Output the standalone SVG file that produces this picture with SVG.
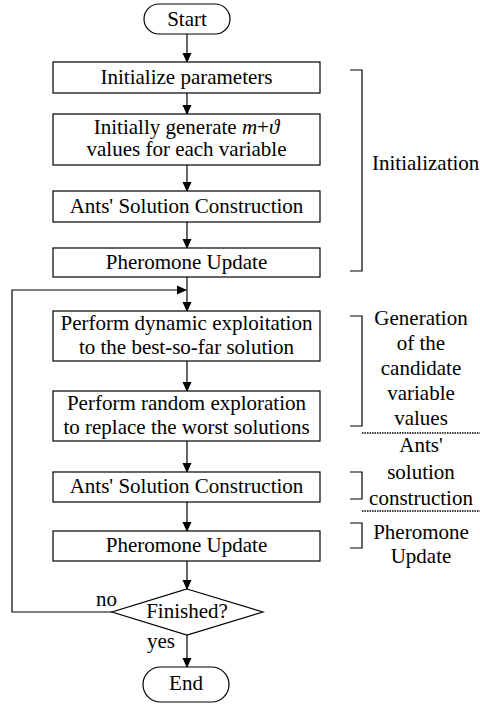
<svg xmlns="http://www.w3.org/2000/svg" width="480" height="704" viewBox="0 0 480 704">
<style>
text{font-family:'Liberation Serif','Times New Roman',serif;font-size:21px;fill:#000}
.c{text-anchor:middle}
.b{fill:#fff;stroke:#000;stroke-width:1.2}
.l{fill:none;stroke:#000;stroke-width:1.2}
.d{fill:none;stroke:#000;stroke-width:1.5;stroke-dasharray:1.5 1}
</style>
<defs>
<marker id="ah" markerWidth="10" markerHeight="12" refX="9" refY="5" orient="auto" markerUnits="userSpaceOnUse">
<path d="M0,0.5 L10,5 L0,9.5 Z" fill="#000"/>
</marker>
</defs>
<g id="connectors">
<line class="l" x1="187" y1="34" x2="187" y2="62" marker-end="url(#ah)"/>
<line class="l" x1="187" y1="93" x2="187" y2="114" marker-end="url(#ah)"/>
<line class="l" x1="187" y1="165" x2="187" y2="191" marker-end="url(#ah)"/>
<line class="l" x1="187" y1="222" x2="187" y2="248" marker-end="url(#ah)"/>
<line class="l" x1="187" y1="277" x2="187" y2="311" marker-end="url(#ah)"/>
<line class="l" x1="187" y1="361" x2="187" y2="391" marker-end="url(#ah)"/>
<line class="l" x1="187" y1="441" x2="187" y2="472" marker-end="url(#ah)"/>
<line class="l" x1="187" y1="502" x2="187" y2="531" marker-end="url(#ah)"/>
<line class="l" x1="187" y1="561" x2="187" y2="589" marker-end="url(#ah)"/>
<line class="l" x1="187" y1="635" x2="187" y2="667" marker-end="url(#ah)"/>
<polyline class="l" points="112,612 12,612 12,290 186,290" marker-end="url(#ah)"/>
<text x="96" y="606">no</text>
<text x="147" y="648">yes</text>
</g>
<g id="start"><rect class="b" x="144" y="4" width="86" height="30" rx="15"/><text class="c" x="187" y="26">Start</text></g>
<g id="init-params"><rect class="b" x="53" y="62" width="267" height="31"/><text class="c" x="186.5" y="84">Initialize parameters</text></g>
<g id="init-generate"><rect class="b" x="53" y="114" width="267" height="51"/><text class="c" x="186.5" y="134">Initially generate <tspan font-style="italic">m</tspan>+<tspan font-style="italic">ϑ</tspan></text><text class="c" x="186.5" y="156">values for each variable</text></g>
<g id="ants1"><rect class="b" x="53" y="191" width="267" height="31"/><text class="c" x="186.5" y="213">Ants' Solution Construction</text></g>
<g id="pher1"><rect class="b" x="53" y="248" width="267" height="29"/><text class="c" x="186.5" y="269">Pheromone Update</text></g>
<g id="exploit"><rect class="b" x="53" y="311" width="267" height="50"/><text class="c" x="186.5" y="330">Perform dynamic exploitation</text><text class="c" x="186.5" y="354">to the best-so-far solution</text></g>
<g id="explore"><rect class="b" x="53" y="391" width="267" height="50"/><text class="c" x="186.5" y="410">Perform random exploration</text><text class="c" x="186.5" y="434">to replace the worst solutions</text></g>
<g id="ants2"><rect class="b" x="53" y="472" width="267" height="30"/><text class="c" x="186.5" y="493">Ants' Solution Construction</text></g>
<g id="pher2"><rect class="b" x="53" y="531" width="267" height="30"/><text class="c" x="186.5" y="552">Pheromone Update</text></g>
<g id="finished"><polygon class="b" points="187,589 263,612 187,635 112,612"/><text class="c" x="187" y="618">Finished?</text></g>
<g id="end"><rect class="b" x="143" y="667" width="86" height="35" rx="17.5"/><text class="c" x="186" y="690">End</text></g>
<g id="phases">
<polyline class="l" points="350,70 362,70 362,271 350,271"/>
<text x="372" y="170">Initialization</text>
<polyline class="l" points="350,316 362,316 362,426 350,426"/>
<text class="c" x="421" y="325">Generation</text>
<text class="c" x="421" y="350">of the</text>
<text class="c" x="421" y="375">candidate</text>
<text class="c" x="421" y="400">variable</text>
<text class="c" x="421" y="425">values</text>
<line class="d" x1="362" y1="433" x2="480" y2="433"/>
<polyline class="l" points="350,472 362,472 362,499 350,499"/>
<text class="c" x="421" y="452">Ants'</text>
<text class="c" x="421" y="479">solution</text>
<text class="c" x="421" y="505">construction</text>
<line class="d" x1="362" y1="511" x2="480" y2="511"/>
<polyline class="l" points="350,523 362,523 362,548 350,548"/>
<text class="c" x="421" y="539">Pheromone</text>
<text class="c" x="421" y="563">Update</text>
</g>
</svg>
